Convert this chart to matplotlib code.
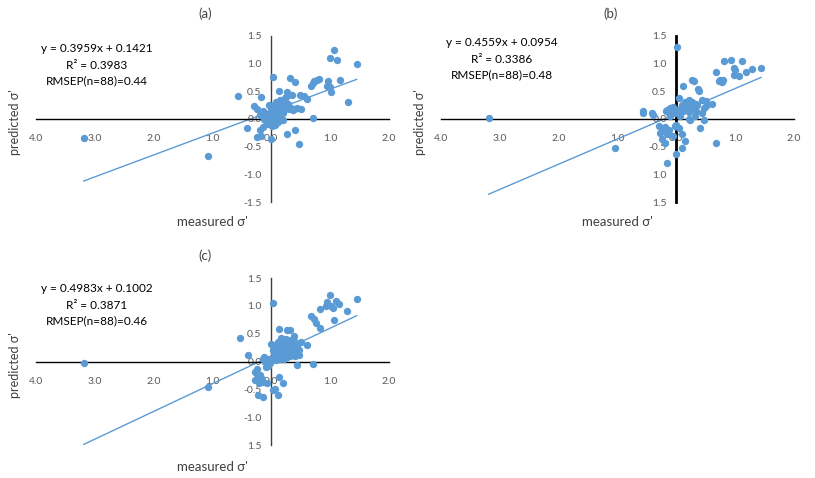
import matplotlib.pyplot as plt

plt.rcParams['font.family'] = ['Lato', 'DejaVu Sans']

# panel (a)
a_x = [-3.19, -1.07, -0.56, -0.42, 1.06, 0.99, 1.11, 1.45, 0.03, 0.32, 0.41, 0.81, 0.77, 0.73, 0.70,
       0.67, 0.97, 1.17, 0.94, 0.99, 1.01, 1.30, 0.61, -0.17, 0.125, 0.27, 0.35, 0.49, 0.24, 0.19,
       0.16, 0.44, 0.50, 0.39, 0.30, 0.22, 0.10, 0.05, -0.04, -0.30, -0.24, -0.15, -0.10, -0.07,
       -0.02, 0.02, 0.07, 0.13, -0.11, -0.07, 0.02, 0.07, 0.19, -0.14, -0.19, 0.70, 0.41, 0.26,
       0.00, -0.24, -0.17, 0.47, 0.04, 0.09, -0.05, 0.12, 0.15, 0.28, 0.33, -0.12, -0.03, 0.06,
       0.18, 0.23, -0.08, 0.01, 0.11, 0.36, 0.20, -0.20, -0.01, 0.08, 0.14, 0.25, 0.55, 0.03, -0.06, 0.17]
a_y = [-0.34, -0.66, 0.42, -0.17, 1.25, 1.11, 1.06, 0.99, 0.75, 0.74, 0.66, 0.72, 0.70, 0.68, 0.65,
       0.59, 0.69, 0.70, 0.59, 0.58, 0.48, 0.31, 0.36, 0.39, 0.51, 0.48, 0.44, 0.44, 0.38, 0.32,
       0.26, 0.19, 0.18, 0.18, 0.18, 0.17, 0.24, 0.26, 0.26, 0.24, 0.18, 0.14, 0.11, 0.06,
       0.04, 0.08, 0.11, 0.05, -0.01, -0.07, -0.04, -0.10, -0.02, -0.14, -0.19, 0.02, -0.20, -0.27,
       -0.36, -0.33, -0.30, -0.46, 0.14, 0.20, 0.02, 0.15, 0.22, 0.28, 0.20, 0.00, 0.10, 0.00,
       0.12, 0.30, -0.04, -0.12, -0.05, 0.16, 0.10, 0.08, 0.19, 0.30, 0.35, 0.40, 0.42, 0.16, -0.09, 0.22]
a_fit = (0.3959, 0.1421)
a_text = ['y = 0.3959x + 0.1421', 'R² = 0.3983', 'RMSEP(n=88)=0.44']
a_ylabels = ['1.5', '1.0', '0.5', '0.0', '-0.5', '-1.0', '-1.5']

# panel (b)
b_x = [-3.19, -1.05, -0.57, -0.40, 0.02, 0.81, 0.93, 1.11, 0.98, 1.00, 1.18, 1.29, 1.44, 0.67,
       0.98, 1.06, 0.75, 0.79, 0.77, 0.72, 0.27, 0.30, 0.12, 0.37, 0.39, 0.05, 0.44, 0.50, 0.60,
       0.21, 0.16, 0.24, 0.30, 0.13, 0.21, 0.34, 0.47, 0.50, -0.06, -0.10, -0.15, 0.02, 0.07, -0.18,
       -0.13, -0.56, -0.41, 0.44, 0.21, 0.24, 0.47, 0.07, -0.29, -0.20, -0.02, 0.05, 0.41, -0.27,
       -0.15, 0.10, 0.15, -0.24, -0.19, 0.10, 0.68, -0.01, -0.15, 0.18, 0.26, 0.09, -0.03, 0.12,
       0.33, -0.08, 0.19, 0.28, 0.04, -0.22, 0.15, 0.36, 0.00, -0.11, 0.22, 0.08, -0.05, 0.31, 0.14, -0.12]
b_y = [0.01, -0.52, 0.11, 0.07, 1.30, 1.04, 1.06, 1.05, 0.92, 0.89, 0.85, 0.91, 0.93, 0.85,
       0.80, 0.77, 0.71, 0.70, 0.66, 0.69, 0.71, 0.68, 0.59, 0.54, 0.50, 0.38, 0.35, 0.32, 0.28,
       0.35, 0.26, 0.26, 0.23, 0.21, 0.17, 0.14, 0.20, 0.24, 0.22, 0.19, 0.17, 0.17, 0.14, 0.14,
       0.11, 0.15, 0.10, 0.11, 0.00, -0.01, -0.02, 0.06, -0.13, -0.14, -0.12, -0.16, -0.16, -0.25,
       -0.27, -0.27, -0.39, -0.37, -0.43, -0.52, -0.43, -0.64, -0.80, 0.20, 0.30, 0.25, 0.10, 0.15,
       0.28, 0.20, 0.22, 0.18, 0.12, -0.20, 0.30, 0.25, -0.10, 0.05, 0.12, 0.20, -0.30, 0.06, 0.18, -0.20]
b_fit = (0.4559, 0.0954)
b_text = ['y = 0.4559x + 0.0954', 'R² = 0.3386', 'RMSEP(n=88)=0.48']
b_ylabels = ['1.5', '1.0', '0.5', '0.0', '-0.5', '1.0', '1.5']

# panel (c)
c_x = [-3.19, -1.07, -0.53, -0.40, 0.03, 0.99, 0.95, 1.01, 0.93, 1.04, 1.10, 1.15, 1.45, 1.29,
       0.83, 0.67, 0.73, 0.76, 0.82, 1.06, 0.13, 0.27, 0.32, 0.39, 0.16, 0.22, 0.33, 0.41, 0.50,
       0.61, -0.01, 0.07, 0.13, 0.27, 0.44, 0.02, 0.24, 0.36, 0.47, 0.10, 0.16, 0.47, 0.27, 0.22,
       -0.12, -0.07, -0.15, -0.10, -0.02, 0.43, 0.70, -0.24, -0.28, -0.19, -0.27, -0.15, -0.21, 0.13,
       0.19, -0.07, 0.02, 0.07, -0.23, -0.15, 0.11, 0.05, 0.18, 0.30, 0.09, 0.35, 0.20, 0.12, 0.25,
       0.40, 0.04, -0.05, 0.15, 0.28, 0.08, -0.18, -0.25, 0.00, 0.38, 0.14, 0.06, 0.21, 0.31, -0.09]
c_y = [-0.02, -0.45, 0.42, 0.12, 1.06, 1.19, 1.07, 1.00, 1.00, 0.97, 1.09, 1.03, 1.12, 0.91,
       0.94, 0.82, 0.76, 0.70, 0.61, 0.74, 0.58, 0.57, 0.56, 0.46, 0.42, 0.38, 0.38, 0.35, 0.35,
       0.30, 0.32, 0.29, 0.26, 0.26, 0.26, 0.20, 0.18, 0.15, 0.20, 0.12, 0.09, 0.11, 0.08, 0.05,
       0.08, 0.05, 0.04, 0.00, -0.02, -0.06, -0.04, -0.14, -0.18, -0.25, -0.34, -0.36, -0.38, -0.28,
       -0.38, -0.38, -0.52, -0.49, -0.60, -0.64, -0.61, 0.15, 0.22, 0.30, 0.20, 0.25, 0.12, 0.35,
       0.40, 0.10, 0.08, -0.08, 0.05, 0.18, 0.02, -0.30, -0.22, 0.05, 0.30, 0.14, 0.24, 0.32, 0.10, -0.10]
c_fit = (0.4983, 0.1002)
c_text = ['y = 0.4983x + 0.1002', 'R² = 0.3871', 'RMSEP(n=88)=0.46']
c_ylabels = ['1.5', '1.0', '0.5', '0.0', '-0.5', '-1.0', '1.5']

xticks = [-4, -3, -2, -1, 0, 1, 2]
xlabels = ['4.0', '3.0', '2.0', '1.0', '0.0', '1.0', '2.0']
yticks = [1.5, 1.0, 0.5, 0.0, -0.5, -1.0, -1.5]

blue = '#5B9BD5'
fig = plt.figure(figsize=(8.15, 4.78), dpi=100)


def panel(rect, xs, ys, fit, text, ylabels, title, yspine_w, yspine_c, title_y, text_x, text_y, xl_y):
    ax = fig.add_axes(rect)
    ax.set_xlim(-4, 2)
    ax.set_ylim(-1.5, 1.5)
    ax.scatter(xs, ys, s=28, color=blue, zorder=3, linewidths=0)
    x0, x1 = min(xs), max(xs)
    ax.plot([x0, x1], [fit[0] * x0 + fit[1], fit[0] * x1 + fit[1]], color=blue, lw=1, zorder=2)
    for s in ['top', 'right']:
        ax.spines[s].set_visible(False)
    ax.spines['left'].set_position(('data', 0))
    ax.spines['bottom'].set_position(('data', 0))
    ax.spines['bottom'].set_color('black')
    ax.spines['bottom'].set_linewidth(1.0)
    ax.spines['left'].set_color(yspine_c)
    ax.spines['left'].set_linewidth(yspine_w)
    ax.set_xticks(xticks)
    ax.set_xticklabels(xlabels)
    ax.set_yticks(yticks)
    ax.set_yticklabels(ylabels)
    ax.tick_params(axis='x', length=0, pad=11, labelsize=7.5, labelcolor='#595959')
    ax.tick_params(axis='y', length=0, pad=7, labelsize=7.5, labelcolor='#595959')
    ax.patch.set_visible(False)
    pos = ax.get_position()
    fig.text(pos.x0 + pos.width * 0.48, title_y, title,
             ha='center', va='center', fontsize=9.5, color='#404040')
    for i, t in enumerate(text):
        fig.text(text_x, text_y - i * 0.0335, t, ha='center', va='center', fontsize=8.5, color='black')
    fig.text(pos.x0 - 0.026, pos.y0 + pos.height * 0.48,
             "predicted σ'", rotation=90, ha='center', va='center', fontsize=9, color='#404040')
    fig.text(pos.x0 + pos.width * 0.5, xl_y, "measured σ'",
             ha='center', va='center', fontsize=9.5, color='#404040')
    return ax


panel([0.0442, 0.5774, 0.4331, 0.3473], a_x, a_y, a_fit, a_text, a_ylabels, '(a)', 1.0, '#404040',
      1 - 14 / 478, 97 / 815, 1 - 49 / 478, 1 - 222 / 478)
panel([0.5411, 0.5774, 0.4331, 0.3473], b_x, b_y, b_fit, b_text, b_ylabels, '(b)', 2.0, 'black',
      1 - 14 / 478, 502 / 815, 1 - 43 / 478, 1 - 222 / 478)
panel([0.0442, 0.0690, 0.4331, 0.3494], c_x, c_y, c_fit, c_text, c_ylabels, '(c)', 1.0, '#404040',
      1 - 256 / 478, 97 / 815, 1 - 289 / 478, 1 - 467 / 478)

fig.savefig('out.png', dpi=100)
